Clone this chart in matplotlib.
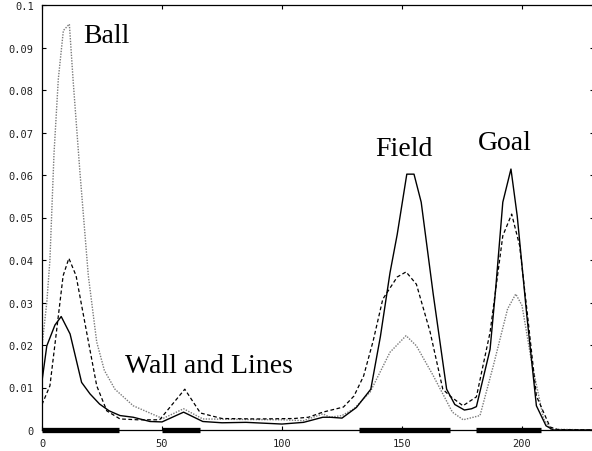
import matplotlib
matplotlib.use("Agg")
import matplotlib.pyplot as plt

# ---- data ----
solid_x = [0, 2, 5.4, 8, 11.7, 16.5, 20, 24, 28, 32.5, 38, 45, 50, 59, 67, 75, 85, 100, 109, 117, 120, 125,
           131, 137, 141, 145, 148, 152, 155, 158, 163, 168.6, 172, 176, 179, 181, 186.7, 189, 192, 195.4,
           198, 202, 206, 210, 213, 230]
solid_y = [0.0115, 0.0198, 0.0247, 0.0267, 0.0226, 0.0112, 0.0085, 0.0061, 0.0045, 0.0034, 0.003, 0.002,
           0.0019, 0.0042, 0.002, 0.0017, 0.0018, 0.0014, 0.0018, 0.003, 0.003, 0.0028,
           0.0053, 0.0096, 0.022, 0.037, 0.046, 0.0602, 0.0602, 0.0536, 0.032, 0.0096, 0.006, 0.0047, 0.005,
           0.0055, 0.019, 0.033, 0.0536, 0.0614, 0.0504, 0.027, 0.0057, 0.001, 0.0, 0.0]

dash_x = [0, 3.3, 6, 8.8, 11.2, 14.2, 18.6, 22.8, 27, 32.5, 40, 49, 59.5, 66, 75, 90, 105, 111, 117, 125.6,
          130, 134, 138, 142, 148, 151.7, 156, 161.7, 167, 170, 175.4, 181, 186.7, 192, 195.7, 199, 202.5,
          206, 211.7, 215, 230]
dash_y = [0.006, 0.0104, 0.023, 0.0363, 0.0404, 0.0363, 0.023, 0.0104, 0.0045, 0.0026, 0.0024, 0.0024,
          0.0096, 0.004, 0.0027, 0.0026, 0.0027, 0.003, 0.0042, 0.0054,
          0.008, 0.0127, 0.021, 0.0308, 0.036, 0.0372, 0.0343, 0.0231, 0.0096, 0.008, 0.0057, 0.0078,
          0.023, 0.0457, 0.0508, 0.0434, 0.026, 0.008, 0.0007, 0.0001, 0.0]

dot_x = [0, 2, 3.3, 5, 6.8, 8.9, 11.4, 13, 15.8, 19.3, 22.8, 26, 30.4, 38, 49, 50, 59, 67, 80, 100, 109,
         117, 120, 125, 130, 136.7, 145, 151.7, 156, 163, 171, 175.5, 182.5, 188, 194, 197.4, 200, 204,
         209, 212, 230]
dot_y = [0.0198, 0.030, 0.040, 0.065, 0.0826, 0.094, 0.0955, 0.082, 0.0607, 0.0363, 0.0207, 0.014, 0.0096,
         0.0057, 0.003, 0.0026, 0.005, 0.0026, 0.0025, 0.0024, 0.0022,
         0.0038, 0.003, 0.0034, 0.005, 0.0089, 0.0183, 0.0222, 0.0198, 0.0128, 0.0042, 0.0024, 0.0034,
         0.015, 0.0285, 0.032, 0.0293, 0.016, 0.0026, 0.0002, 0.0]

bar_ranges = [(0, 32), (50, 66), (132, 170), (181, 208)]

labels = ["Ball", "Wall and Lines", "Field", "Goal"]
label_x = [17.1, 34.6, 138.8, 181.8]
label_y = [0.0913, 0.0137, 0.0647, 0.066]

x_ticks = [0, 50, 100, 150, 200]
y_ticks = [0, 0.01, 0.02, 0.03, 0.04, 0.05, 0.06, 0.07, 0.08, 0.09, 0.1]
y_tick_labels = ["0", "0.01", "0.02", "0.03", "0.04", "0.05", "0.06", "0.07", "0.08", "0.09", "0.1"]

# ---- figure ----
fig = plt.figure(figsize=(5.92, 4.52), dpi=100)
ax = fig.add_axes([42 / 592, 21 / 452, 552 / 592, 425 / 452])

ax.plot(dot_x, dot_y, color="#7a7a7a", lw=1.0, linestyle=(0, (1, 1)))
ax.plot(dash_x, dash_y, color="black", lw=0.9, linestyle=(0, (3, 2)))
ax.plot(solid_x, solid_y, color="black", lw=1.0)

for a, b in bar_ranges:
    ax.hlines(0, a, b, colors="black", linewidth=3.8, clip_on=False, zorder=5)

for t, x, y in zip(labels, label_x, label_y):
    ax.text(x, y, t, family="Liberation Serif", fontsize=20, color="black", ha="left", va="baseline")

ax.set_xlim(0, 230)
ax.set_ylim(0, 0.1)
ax.set_xticks(x_ticks)
ax.set_xticklabels([str(v) for v in x_ticks])
ax.set_yticks(y_ticks)
ax.set_yticklabels(y_tick_labels)
ax.tick_params(direction="in", length=3, width=0.8, top=True, right=True, pad=6,
               labelsize=7.5, labelcolor="#222222")
for lab in ax.get_xticklabels() + ax.get_yticklabels():
    lab.set_family("DejaVu Sans Mono")
for s in ax.spines.values():
    s.set_linewidth(0.9)

fig.savefig("out.png", dpi=100)
